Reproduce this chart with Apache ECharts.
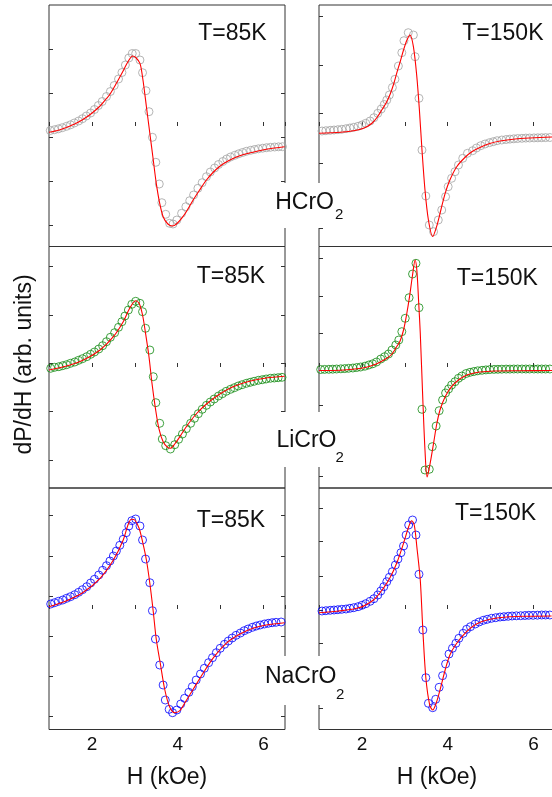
<!DOCTYPE html>
<html>
<head>
<meta charset="utf-8">
<script src="https://cdn.jsdelivr.net/npm/echarts@6/dist/echarts.min.js"></script>
<style>html,body{margin:0;padding:0;background:#fff}#c{width:552px;height:797px}</style>
</head>
<body>
<div id="c"></div>
<script>
// ---- data: field H (kOe), signal dP/dH (arb. units) ----
const HCrO2_85K = [[1.03,-4.5],[1.13,-3.7],[1.22,-2.8],[1.31,-1.7],[1.41,-0.3],[1.50,1.2],[1.59,3],[1.69,5],[1.78,7.3],[1.87,10],[1.97,13],[2.06,16.5],[2.15,20.5],[2.24,24.5],[2.34,29.5],[2.43,34.5],[2.52,40.5],[2.62,47],[2.70,53.5],[2.78,61],[2.86,68],[2.94,72.5],[3.02,72.5],[3.12,66],[3.18,53.3],[3.26,35.3],[3.33,14.3],[3.41,-11.3],[3.49,-36.3],[3.57,-58],[3.63,-76.7],[3.72,-88.3],[3.81,-97.3],[3.89,-98],[3.98,-94],[4.09,-87.3],[4.19,-80.7],[4.28,-74.7],[4.37,-69],[4.47,-62.3],[4.57,-56.7],[4.67,-50.7],[4.76,-46],[4.86,-42],[4.95,-38.5],[5.05,-35.5],[5.14,-33],[5.23,-31],[5.33,-29.3],[5.42,-27.8],[5.51,-26.5],[5.60,-25.3],[5.70,-24.3],[5.79,-23.5],[5.88,-22.8],[5.98,-22.2],[6.07,-21.7],[6.16,-21.3],[6.26,-21],[6.35,-20.8],[6.44,-20.7]];
const HCrO2_85K_fit = [[1.00,-6.3],[1.21,-4.3],[1.41,-1.3],[1.60,2],[1.80,6.7],[1.99,12.5],[2.19,20],[2.33,27],[2.42,31.7],[2.57,42.7],[2.73,55.3],[2.84,64.3],[2.95,70],[3.02,68.5],[3.12,62.7],[3.19,46],[3.27,19.3],[3.35,-7.3],[3.43,-34],[3.50,-57.3],[3.58,-77.3],[3.66,-90.7],[3.77,-98],[3.88,-100],[3.97,-98],[4.09,-92.3],[4.20,-85.7],[4.36,-74],[4.51,-64],[4.66,-54.5],[4.81,-47],[4.96,-41],[5.11,-36.5],[5.29,-32.5],[5.48,-29.3],[5.67,-27],[5.87,-25],[6.06,-23.3],[6.26,-22],[6.49,-20.7]];

const HCrO2_150K = [[1.07,-5],[1.16,-4.7],[1.26,-4.3],[1.35,-4],[1.44,-3.7],[1.53,-3.3],[1.63,-2.7],[1.72,-2],[1.81,-1.3],[1.91,-0.3],[2.00,1],[2.09,2.7],[2.19,5],[2.28,8.3],[2.37,12.7],[2.45,17],[2.52,21.5],[2.58,26],[2.64,31],[2.71,38.5],[2.77,46.7],[2.85,60],[2.93,73.3],[2.98,85.3],[3.08,93.3],[3.20,91],[3.24,69.3],[3.33,27.7],[3.40,-24],[3.49,-70],[3.57,-99],[3.67,-105.7],[3.78,-94],[3.86,-84],[3.95,-70.7],[4.01,-60.7],[4.09,-52.3],[4.17,-45.7],[4.25,-39],[4.35,-32.3],[4.46,-27.3],[4.58,-24.7],[4.67,-22],[4.77,-19.7],[4.87,-18],[4.97,-16.7],[5.06,-15.7],[5.15,-14.7],[5.26,-14],[5.36,-13.5],[5.45,-13.1],[5.54,-12.8],[5.63,-12.5],[5.73,-12.3],[5.82,-12.1],[5.91,-12],[6.01,-11.9],[6.10,-11.8],[6.19,-11.7],[6.28,-11.6],[6.38,-11.5]];
const HCrO2_150K_fit = [[1.00,-7.3],[1.50,-6.3],[1.84,-4.5],[2.08,-1.5],[2.24,3],[2.36,9],[2.47,16.5],[2.57,23.5],[2.66,32],[2.74,42],[2.81,52.7],[2.89,64],[2.97,76],[3.05,86],[3.12,91],[3.20,79.3],[3.28,49.3],[3.34,16],[3.40,-24],[3.47,-64],[3.55,-94],[3.65,-110.5],[3.74,-100.7],[3.84,-84],[3.94,-67.3],[4.05,-54],[4.21,-40.7],[4.40,-31.5],[4.57,-25.5],[4.75,-21.5],[4.98,-17.5],[5.22,-15],[5.57,-13],[5.92,-12],[6.43,-11]];

const LiCrO2_85K = [[1.04,-1.3],[1.13,-0.3],[1.23,0.3],[1.32,1.3],[1.41,2.3],[1.50,3.7],[1.60,5],[1.69,6.7],[1.78,8.3],[1.88,10.3],[1.97,12.7],[2.06,15],[2.16,18],[2.25,21.3],[2.34,25.3],[2.43,29.7],[2.53,34.3],[2.62,39.7],[2.70,45.3],[2.77,51],[2.85,57],[2.93,62.7],[3.02,65.7],[3.12,63.7],[3.18,55.3],[3.25,38.7],[3.35,17],[3.43,-9.7],[3.49,-35.7],[3.58,-56.3],[3.64,-72],[3.72,-78.7],[3.83,-82],[3.93,-77.7],[4.02,-72.3],[4.11,-67],[4.20,-61.7],[4.30,-56.3],[4.39,-51.3],[4.48,-46.7],[4.57,-42.3],[4.67,-38.3],[4.76,-35],[4.85,-32],[4.95,-29],[5.04,-26.7],[5.13,-24.3],[5.23,-22.3],[5.32,-20.7],[5.41,-19],[5.50,-17.7],[5.60,-16.3],[5.69,-15.3],[5.78,-14.3],[5.88,-13.3],[5.97,-12.7],[6.06,-12],[6.16,-11.3],[6.25,-11],[6.34,-10.7],[6.43,-10.3]];
const LiCrO2_85K_fit = [[1.00,-3],[1.41,1],[1.80,7],[2.19,17],[2.50,30.3],[2.73,45.3],[2.88,58.7],[3.02,66.3],[3.10,63.7],[3.18,52],[3.25,33.7],[3.33,10.3],[3.40,-16.3],[3.48,-41.3],[3.56,-61.3],[3.66,-74.7],[3.77,-80.7],[3.83,-81.3],[3.93,-77],[4.05,-69.7],[4.20,-59.7],[4.43,-47],[4.67,-37],[4.98,-27],[5.29,-19.7],[5.67,-14.3],[6.06,-11],[6.49,-9.3]];

const LiCrO2_150K = [[1.04,-2.5],[1.13,-2.4],[1.23,-2.3],[1.32,-2.2],[1.41,-2],[1.51,-1.8],[1.60,-1.6],[1.69,-1.3],[1.79,-1],[1.88,-0.5],[1.97,0],[2.07,0.8],[2.16,2],[2.25,3.2],[2.34,5],[2.44,8],[2.53,10.3],[2.62,13],[2.70,17],[2.79,22],[2.86,27],[2.93,35.3],[3.01,48.7],[3.10,69.3],[3.18,93],[3.26,103.7],[3.33,59.3],[3.40,-42.3],[3.47,-103],[3.57,-102.3],[3.64,-79.7],[3.73,-59],[3.80,-43.7],[3.88,-33],[3.95,-26],[4.02,-22],[4.09,-18],[4.17,-14.7],[4.25,-11.3],[4.33,-9],[4.43,-6.5],[4.52,-5.3],[4.61,-4.5],[4.70,-3.8],[4.80,-3.3],[4.89,-2.9],[4.98,-2.6],[5.08,-2.4],[5.17,-2.3],[5.26,-2.2],[5.36,-2.1],[5.45,-2.1],[5.54,-2],[5.63,-2],[5.73,-2],[5.82,-2],[5.91,-2],[6.01,-2],[6.10,-2],[6.19,-2],[6.28,-2],[6.38,-2]];
const LiCrO2_150K_fit = [[1.00,-3.5],[1.50,-3.2],[1.84,-2],[2.08,-0.5],[2.27,2],[2.43,5],[2.58,8.7],[2.70,13],[2.81,20.3],[2.89,26],[2.97,37],[3.04,52],[3.11,70.3],[3.18,92],[3.24,107],[3.28,97],[3.32,67],[3.36,34],[3.42,-33],[3.47,-83],[3.52,-110],[3.59,-96.3],[3.67,-76.3],[3.74,-58],[3.82,-43],[3.94,-29.7],[4.09,-19.7],[4.25,-13],[4.40,-9],[4.52,-7],[4.75,-5],[5.10,-4],[5.68,-3.7],[6.43,-3.5]];

const NaCrO2_85K = [[1.04,5],[1.13,6.3],[1.22,7.7],[1.32,9],[1.41,10.7],[1.50,12.3],[1.60,14.3],[1.69,16.7],[1.78,19.3],[1.88,22.3],[1.97,26],[2.06,29.7],[2.16,34],[2.25,38.7],[2.34,43.3],[2.42,48],[2.50,53],[2.57,58],[2.65,63.7],[2.73,69.7],[2.80,76.3],[2.86,83],[2.93,88.3],[3.02,90],[3.12,83],[3.18,69],[3.25,50],[3.35,26.3],[3.41,-1.7],[3.48,-30],[3.58,-56],[3.66,-76],[3.71,-91],[3.80,-100.3],[3.88,-103.7],[3.98,-101],[4.07,-95],[4.16,-89.3],[4.26,-83.3],[4.34,-77.7],[4.43,-71],[4.53,-65],[4.62,-59.3],[4.72,-53.7],[4.81,-48.7],[4.90,-43.7],[4.99,-39.3],[5.09,-35.3],[5.18,-32],[5.27,-29],[5.36,-26.3],[5.46,-24],[5.55,-21.7],[5.64,-20],[5.74,-18.3],[5.83,-17],[5.92,-16],[6.02,-15],[6.11,-14.3],[6.20,-13.7],[6.29,-13.3],[6.41,-13]];
const NaCrO2_85K_fit = [[1.00,2.3],[1.41,8.3],[1.80,16.7],[2.19,30.7],[2.50,49],[2.73,69],[2.84,84],[2.92,89.7],[3.00,89],[3.10,80.7],[3.18,67.3],[3.27,49],[3.35,25.7],[3.43,-2.7],[3.50,-30.3],[3.60,-56],[3.70,-81],[3.81,-97.7],[3.93,-103.7],[4.05,-101.7],[4.16,-94.3],[4.36,-80.3],[4.59,-64.3],[4.82,-49.3],[5.13,-34.3],[5.44,-25.3],[5.75,-19.3],[6.06,-16],[6.49,-13.7]];

const NaCrO2_150K = [[1.07,-2],[1.16,-1.7],[1.26,-1.3],[1.35,-1],[1.44,-0.7],[1.53,-0.3],[1.63,0],[1.72,0.7],[1.81,1.3],[1.91,2.3],[2.00,3.7],[2.09,5.3],[2.19,7.7],[2.28,10.3],[2.37,14],[2.44,18],[2.51,22.3],[2.58,27.3],[2.64,31.7],[2.71,37.3],[2.78,44],[2.84,50],[2.91,56.3],[2.97,63],[3.03,74],[3.09,84],[3.18,89],[3.26,74],[3.33,34.7],[3.42,-21],[3.49,-68.7],[3.55,-94.3],[3.65,-98.7],[3.72,-90.3],[3.80,-78.3],[3.88,-66.7],[3.95,-55],[4.03,-45],[4.11,-39.3],[4.19,-34.3],[4.26,-29.3],[4.36,-24.3],[4.44,-20.3],[4.53,-17.7],[4.64,-15],[4.73,-13],[4.83,-11.3],[4.92,-10.3],[5.02,-9.3],[5.12,-8.7],[5.22,-8],[5.31,-7.7],[5.41,-7.3],[5.50,-7],[5.60,-6.8],[5.70,-6.7],[5.80,-6.5],[5.89,-6.3],[5.99,-6.3],[6.09,-6.2],[6.19,-6],[6.28,-6],[6.38,-6]];
const NaCrO2_150K_fit = [[1.00,-3.7],[1.88,0.7],[2.27,9],[2.50,20.7],[2.66,31.7],[2.81,45.7],[2.97,65.7],[3.09,82.3],[3.16,88.3],[3.22,84],[3.28,62.3],[3.36,29],[3.42,-21],[3.49,-68.7],[3.58,-96],[3.65,-101],[3.73,-94.3],[3.82,-81],[3.94,-61],[4.05,-46],[4.21,-34.3],[4.44,-22.7],[4.67,-15],[4.98,-10.3],[5.37,-8],[5.76,-7.3],[6.42,-7]];

// y tick positions (arb. units) per panel, x tick labels
const yTicks = [
  [77,33,-11,-55,-99],
  [109.3,61,12.7,-37.3,-102.3],
  [100.3,52,3.7,-44.7,-93],
  [108.7,70.3,33.7,-3,-38,-74.7,-109.7],
  [94,53,13,-27,-67.7,-107.7],
  [100.7,67.3,33,-1,-34.3,-99.3]
];
const xTickLabels = [2,4,6];
const temps = ['T=85K','T=150K','T=85K','T=150K','T=85K','T=150K'];
const compounds = ['HCrO','LiCrO','NaCrO'];

// ---- layout ----
const FONT = '"Liberation Sans", Arial, Helvetica, sans-serif';
const AX = '#333';
const panels = [
  {data: HCrO2_85K,  fit: HCrO2_85K_fit,  color: '#a2a2a2'},
  {data: HCrO2_150K, fit: HCrO2_150K_fit, color: '#a2a2a2'},
  {data: LiCrO2_85K, fit: LiCrO2_85K_fit, color: '#108a10'},
  {data: LiCrO2_150K,fit: LiCrO2_150K_fit,color: '#108a10'},
  {data: NaCrO2_85K, fit: NaCrO2_85K_fit, color: '#0000ff'},
  {data: NaCrO2_150K,fit: NaCrO2_150K_fit,color: '#0000ff'}
];
const tops = [5, 246.5, 488];
const lefts = [49, 319];
const H = 241.5, W = 236;
const yRanges = [[-120.5,121],[-121,120.5],[-120.5,121]];

const grid = [], xAxis = [], yAxis = [], series = [];
panels.forEach((p, i) => {
  const row = Math.floor(i / 2), col = i % 2;
  grid.push({left: lefts[col], top: tops[row], width: W, height: H,
    outerBoundsMode: 'none', containLabel: false,
    show: true, borderColor: AX, borderWidth: 1, backgroundColor: 'transparent'});
  const bottomRow = row === 2;
  xAxis.push({
    type: 'value', gridIndex: i, min: 1, max: 6.5, interval: 1,
    axisLine: {show: false},
    axisTick: {show: true, inside: true, length: 4, lineStyle: {color: AX}},
    splitLine: {show: false},
    axisLabel: {show: bottomRow, margin: 6, fontSize: 19, color: '#111', fontFamily: FONT,
      formatter: v => (xTickLabels.indexOf(v) >= 0 ? String(v) : '')},
    name: bottomRow ? 'H (kOe)' : '', nameLocation: 'middle', nameGap: 37,
    nameTextStyle: {fontSize: 23, color: '#111', fontFamily: FONT}
  });
  yAxis.push({
    type: 'value', gridIndex: i, min: yRanges[row][0], max: yRanges[row][1],
    axisLine: {show: false}, splitLine: {show: false}, axisLabel: {show: false},
    axisTick: {show: true, inside: true, length: 4, customValues: yTicks[i], lineStyle: {color: AX}}
  });
  series.push({
    type: 'scatter', xAxisIndex: i, yAxisIndex: i, data: p.data,
    symbol: 'circle', symbolSize: 8, silent: true, z: 2,
    itemStyle: {color: 'rgba(0,0,0,0)', borderColor: p.color, borderWidth: 1}
  });
  series.push({
    type: 'line', xAxisIndex: i, yAxisIndex: i, data: p.fit, smooth: 0.3,
    showSymbol: false, symbol: 'none', silent: true, z: 3,
    lineStyle: {color: '#ff0000', width: 1.1}
  });
});
// right-side ticks for left column panels
[0, 2, 4].forEach(i => {
  const row = Math.floor(i / 2);
  yAxis.push({
    type: 'value', gridIndex: i, position: 'right', min: yRanges[row][0], max: yRanges[row][1],
    axisLine: {show: false}, splitLine: {show: false}, axisLabel: {show: false},
    axisTick: {show: true, inside: true, length: 4, customValues: yTicks[i], lineStyle: {color: AX}}
  });
});

function txt(text, x, y, size, align, extra) {
  return Object.assign({
    type: 'text', x: x, y: y, z: 110,
    style: {text: text, fill: '#111', font: size + 'px ' + FONT,
      align: align, verticalAlign: 'middle', textAlign: align, textVerticalAlign: 'middle'}
  }, extra || {});
}
const graphic = [];
// compound labels with white background boxes
const boxes = [[272,183,74,45],[269,412,77,55],[260,656,86,49]];
const mainPos = [[334,202.7],[336.5,440.5],[336.5,677]];
const subPos = [[335,215],[335.5,458],[336,695]];
compounds.forEach((c, k) => {
  graphic.push({type: 'rect', z: 100, shape: {x: boxes[k][0], y: boxes[k][1], width: boxes[k][2], height: boxes[k][3]}, style: {fill: '#fff'}});
  graphic.push(txt(c, mainPos[k][0], mainPos[k][1], 23, 'right'));
  graphic.push(txt('2', subPos[k][0], subPos[k][1], 15, 'left'));
});
// temperature labels
const tPos = [[198.3,33.3],[462.3,34],[196.7,276.7],[456.7,279],[196.7,521],[455,514]];
temps.forEach((t, i) => graphic.push(txt(t, tPos[i][0], tPos[i][1], 23, 'left')));
// y axis title
graphic.push(txt('dP/dH (arb. units)', 25, 364.5, 23, 'center', {rotation: Math.PI / 2}));

const chart = echarts.init(document.getElementById('c'), null, {renderer: 'canvas'});
chart.setOption({animation: false, backgroundColor: '#fff', grid, xAxis, yAxis, series, graphic});
</script>
</body>
</html>
